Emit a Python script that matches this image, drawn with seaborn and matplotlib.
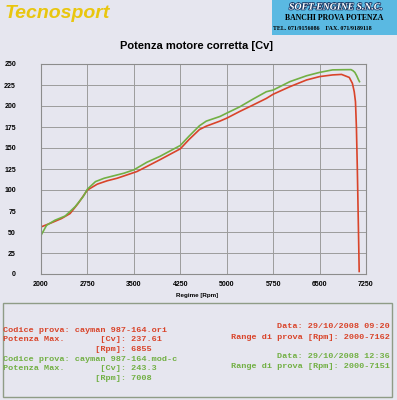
import pandas as pd
import matplotlib
matplotlib.use('Agg')
import matplotlib.pyplot as plt
import matplotlib.patheffects as pe
from matplotlib.patches import Rectangle
import seaborn as sns

# --- dati ---
rpm_ori = [2000, 2170, 2330, 2470, 2600, 2750, 2910, 3070, 3230, 3390, 3550, 3710,
           3920, 4250, 4390, 4560, 4670, 4890, 5000, 5210, 5420, 5640, 5750, 6020,
           6290, 6500, 6710, 6855, 6980, 7030, 7060, 7080, 7095, 7110, 7125, 7140]
cv_ori = [56, 61, 66, 72, 84, 100, 107, 111, 114, 118, 122, 128,
          136, 149, 160, 172, 176, 182, 185.5, 193.5, 201, 209, 214, 223,
          231, 235, 237, 237.6, 234, 227, 217, 205, 175, 125, 65, 3]

rpm_mod = [2000, 2090, 2225, 2390, 2550, 2680, 2750, 2880, 3020, 3180, 3340, 3500,
           3710, 3920, 4250, 4390, 4560, 4670, 4890, 5000, 5210, 5420, 5640, 5750,
           6020, 6290, 6500, 6710, 6870, 7008, 7040, 7070, 7100, 7130, 7145]
cv_mod = [46, 58, 64, 69, 80, 92, 101, 110, 114, 117, 120, 124,
          133, 140, 153, 164, 176.5, 182, 187.5, 191.5, 199, 208, 217, 219,
          229, 236, 240, 243, 243.2, 243.3, 242, 240, 236, 231, 229]

x_ticks = [2000, 2750, 3500, 4250, 5000, 5750, 6500, 7250]
y_ticks = list(range(0, 251, 25))

info_ori = ["Codice prova: cayman 987-164.ori",
            "Potenza Max.       [Cv]: 237.61",
            "                  [Rpm]: 6855"]
info_ori_r = ["Data: 29/10/2008 09:20", "Range di prova [Rpm]: 2000-7162"]
info_mod = ["Codice prova: cayman 987-164.mod-c",
            "Potenza Max.       [Cv]: 243.3",
            "                  [Rpm]: 7008"]
info_mod_r = ["Data: 29/10/2008 12:36", "Range di prova [Rpm]: 2000-7151"]

RED = '#d9442a'
GREEN = '#72b044'
PAPER = '#e6e6ef'

df_ori = pd.DataFrame({'rpm': rpm_ori, 'cv': cv_ori})
df_mod = pd.DataFrame({'rpm': rpm_mod, 'cv': cv_mod})

W, H = 397, 400
fig = plt.figure(figsize=(W / 100, H / 100), dpi=100)
fig.patch.set_facecolor(PAPER)

def fx(px):
    return px / W

def fy(py):
    return 1 - py / H

ax = fig.add_axes([fx(41), fy(274), fx(366) - fx(41), fy(64) - fy(274)])
ax.set_facecolor(PAPER)

sns.lineplot(data=df_ori, x='rpm', y='cv', ax=ax, color=RED, lw=1.2, estimator=None, sort=False)
sns.lineplot(data=df_mod, x='rpm', y='cv', ax=ax, color=GREEN, lw=1.2, estimator=None, sort=False)

ax.set_xlim(2000, 7250)
ax.set_ylim(0, 250)
ax.set_xticks(x_ticks)
ax.set_yticks(y_ticks)
ax.grid(True, color='#9c9c9c', lw=0.7)
ax.set_axisbelow(True)
for s in ax.spines.values():
    s.set_color('#8c8c8c')
    s.set_linewidth(0.8)
ax.tick_params(length=0)
ax.tick_params(axis='y', pad=18)
ax.tick_params(axis='x', pad=5)
for lab in ax.get_xticklabels() + ax.get_yticklabels():
    lab.set_fontfamily('Liberation Sans')
    lab.set_fontweight('bold')
    lab.set_fontsize(5)
ax.set_xlabel('')
ax.set_ylabel('')

fig.text(fx(197), fy(296), 'Regime [Rpm]', ha='center', va='center',
         family='Liberation Sans', weight='bold', fontsize=4.5)
fig.text(fx(196), fy(46), 'Potenza motore corretta [Cv]', ha='center', va='center',
         family='Liberation Sans', weight='bold', fontsize=8)

# intestazione
fig.text(fx(5), fy(14), 'Tecnosport', ha='left', va='center', color='#e9c60e',
         family='Liberation Sans', weight='bold', style='italic', fontsize=14)

fig.add_artist(Rectangle((fx(272), fy(35)), fx(397) - fx(272), fy(0) - fy(35),
                         transform=fig.transFigure, facecolor='#5ab9e2', edgecolor='none'))
fig.text(fx(336), fy(7), 'SOFT-ENGINE S.N.C.', ha='center', va='center', color='white',
         family='Liberation Serif', weight='bold', style='italic', fontsize=7,
         path_effects=[pe.withStroke(linewidth=1.2, foreground='#1d3d6a')])
fig.text(fx(334), fy(18.5), 'BANCHI PROVA POTENZA', ha='center', va='center',
         family='Liberation Serif', weight='bold', fontsize=5.6)
fig.text(fx(273), fy(28.5), 'TEL. 071/9156086    FAX. 071/9189118', ha='left', va='center',
         family='Liberation Serif', weight='bold', fontsize=4.3)

# riquadro info
fig.add_artist(Rectangle((fx(3), fy(397)), fx(392) - fx(3), fy(303) - fy(397),
                         transform=fig.transFigure, facecolor='none', edgecolor='#8f9c86', lw=1))

mono = dict(family='Liberation Mono', weight='bold', fontsize=6.1, va='center')
for i, t in enumerate(info_ori):
    fig.text(fx(3), fy(330 + 9.7 * i), t, color=RED, ha='left', **mono)
for i, t in enumerate(info_mod):
    fig.text(fx(3), fy(359.3 + 9.7 * i), t, color=GREEN, ha='left', **mono)
for i, t in enumerate(info_ori_r):
    fig.text(fx(390), fy(327 + 10.5 * i), t, color=RED, ha='right', **mono)
for i, t in enumerate(info_mod_r):
    fig.text(fx(390), fy(356.5 + 10 * i), t, color=GREEN, ha='right', **mono)

fig.savefig('out.png', dpi=100, facecolor=PAPER)
